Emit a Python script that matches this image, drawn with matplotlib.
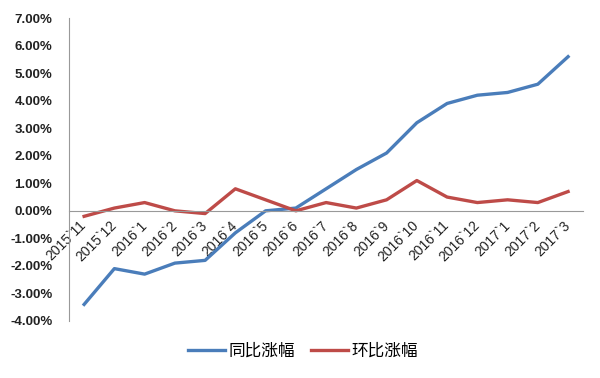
import matplotlib
matplotlib.use('Agg')
import matplotlib.pyplot as plt
from matplotlib.ticker import FuncFormatter

plt.rcParams['font.family'] = ['Noto Sans CJK SC', 'DejaVu Sans']

months = ['2015`11', '2015`12', '2016`1', '2016`2', '2016`3', '2016`4', '2016`5',
          '2016`6', '2016`7', '2016`8', '2016`9', '2016`10', '2016`11', '2016`12',
          '2017`1', '2017`2', '2017`3']
tongbi = [-3.4, -2.1, -2.3, -1.9, -1.8, -0.8, 0.0, 0.1, 0.8, 1.5, 2.1,
          3.2, 3.9, 4.2, 4.3, 4.6, 5.6]
huanbi = [-0.2, 0.1, 0.3, 0.0, -0.1, 0.8, 0.4, 0.0, 0.3, 0.1, 0.4,
          1.1, 0.5, 0.3, 0.4, 0.3, 0.7]
yticks = [-4, -3, -2, -1, 0, 1, 2, 3, 4, 5, 6, 7]

fig = plt.figure(figsize=(6, 3.78), dpi=100)
ax = fig.add_axes([0.115, 0.151, 0.857, 0.801])

x = list(range(len(months)))
ax.plot(x, tongbi, color='#4A7DBA', lw=2.4, label='同比涨幅')
ax.plot(x, huanbi, color='#BE4B48', lw=2.4, label='环比涨幅')

ax.set_xlim(-0.5, len(months) - 0.5)
ax.set_ylim(-4, 7)
ax.set_yticks(yticks)
ax.yaxis.set_major_formatter(FuncFormatter(lambda v, p: '%.2f%%' % v))
for lab in ax.get_yticklabels():
    lab.set_fontfamily('Liberation Sans')
    lab.set_fontweight('bold')
    lab.set_fontsize(9.5)
    lab.set_color('#222222')

ax.spines['top'].set_visible(False)
ax.spines['right'].set_visible(False)
ax.spines['left'].set_color('#999999')
ax.spines['bottom'].set_color('#999999')
ax.spines['bottom'].set_position(('data', 0))
ax.tick_params(axis='both', length=0)
ax.tick_params(axis='y', pad=12)

ax.set_xticks(x)
ax.set_xticklabels(months, rotation=45, ha='right', va='center',
                   rotation_mode='anchor', fontsize=10, color='#222222',
                   family='Liberation Sans')
ax.tick_params(axis='x', pad=9)

ax.legend(loc='center', bbox_to_anchor=(0.505, 0.071), bbox_transform=fig.transFigure,
          ncol=2, frameon=False, fontsize=12, handlelength=2.2, columnspacing=1.0,
          handletextpad=0.2)

fig.savefig('out.png', dpi=100)
